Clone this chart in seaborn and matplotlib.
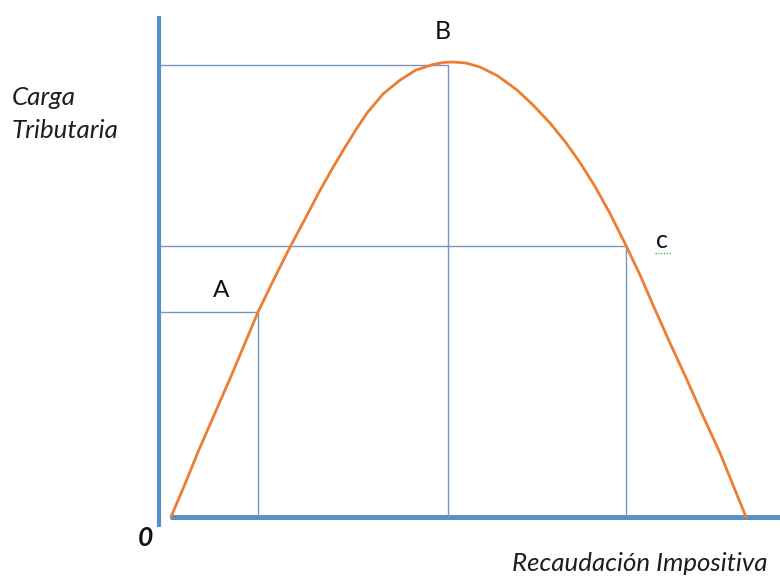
import matplotlib
matplotlib.use('Agg')
import matplotlib.pyplot as plt
from matplotlib.lines import Line2D
import seaborn as sns
import pandas as pd

# curva de Laffer (x: recaudacion, y: carga)
curve_x = [0.00, 2.43, 4.70, 7.65, 10.61, 12.87, 15.13, 17.91, 20.70, 23.30,
           25.57, 28.00, 30.61, 32.35, 34.09, 36.87, 39.83, 42.61, 45.57, 47.30,
           49.04, 51.30, 53.74, 56.87, 60.17, 62.96, 65.91, 68.52, 71.13, 73.74,
           76.35, 79.13, 81.57, 83.83, 86.78, 89.74, 92.52, 95.48, 97.74, 100.00]
curve_y = [0.00, 7.25, 14.29, 22.86, 31.43, 38.24, 45.05, 52.31, 59.34, 65.49,
           70.99, 76.48, 81.98, 85.49, 88.79, 92.97, 96.04, 98.24, 99.45, 99.89,
           100.00, 99.78, 98.90, 96.92, 93.85, 90.55, 86.59, 82.53, 77.91, 72.64,
           66.70, 59.67, 53.19, 46.59, 38.24, 30.11, 22.20, 14.07, 7.03, 0.00]

# puntos marcados con lineas guia
point_names = ['A', 'B', 'C']
point_x = [15.13, 48.10, 79.13]
point_y = [45.05, 99.30, 59.60]

W, H = 780, 577
AXIS_BLUE = '#5b8fc8'
GUIDE_BLUE = '#7896b8'
ORANGE = '#ed7d31'
TEXT = '#1e1e1e'

sns.set_style("white")
plt.rcParams['font.family'] = ['Lato', 'DejaVu Sans']

fig = plt.figure(figsize=(W / 100, H / 100), dpi=100)
ax = fig.add_axes([0, 0, 1, 1])
ax.set_xlim(-29.74, 105.91)
ax.set_ylim(-13.19, 113.63)
ax.set_axis_off()


def fpos(px, py):
    """pixel position -> figure fraction"""
    return px / W, 1 - py / H


# ejes dibujados a mano
y_axis_x = -2.09
ax.plot([y_axis_x, y_axis_x], [-2.2, 110.1], color=AXIS_BLUE, lw=3.0,
        solid_capstyle='butt')
ax.plot([-0.2, 105.91], [0, 0], color=AXIS_BLUE, lw=3.6, solid_capstyle='butt')

# lineas guia
for x, y in zip(point_x, point_y):
    ax.plot([y_axis_x + 0.3, x], [y, y], color=GUIDE_BLUE, lw=1.0)
    ax.plot([x, x], [0, y], color=GUIDE_BLUE, lw=1.0)

df = pd.DataFrame({'recaudacion': curve_x, 'carga': curve_y})
sns.lineplot(data=df, x='recaudacion', y='carga', sort=False, estimator=None,
             color=ORANGE, lw=2.0, ax=ax)

# textos
fig.text(*fpos(12, 105), 'Carga', fontsize=18.6, style='italic',
         color=TEXT, ha='left', va='baseline')
fig.text(*fpos(12, 138), 'Tributaria', fontsize=18.6, style='italic',
         color=TEXT, ha='left', va='baseline')
fig.text(*fpos(512, 571), 'Recaudación Impositiva', fontsize=18.6,
         style='italic', color=TEXT, ha='left', va='baseline')
fig.text(*fpos(145, 546), '0', fontsize=19, style='italic', weight='bold',
         color='#111111', ha='center', va='baseline')

fig.text(*fpos(221, 297), point_names[0], fontsize=17.5, color='#111111',
         ha='center', va='baseline')
fig.text(*fpos(443, 39), point_names[1], fontsize=18, color='#111111',
         ha='center', va='baseline')
fig.text(*fpos(662, 248), point_names[2].lower(), fontsize=18, color='#111111',
         ha='center', va='baseline')

# subrayado ondulado verde bajo la "c"
x0, y0 = fpos(655, 253)
x1, _ = fpos(670, 253)
fig.add_artist(Line2D([x0, x1], [y0, y0], color='#4caf50', lw=1.0,
                      linestyle=(0, (1, 1)), transform=fig.transFigure))

fig.savefig('out.png', dpi=100)
